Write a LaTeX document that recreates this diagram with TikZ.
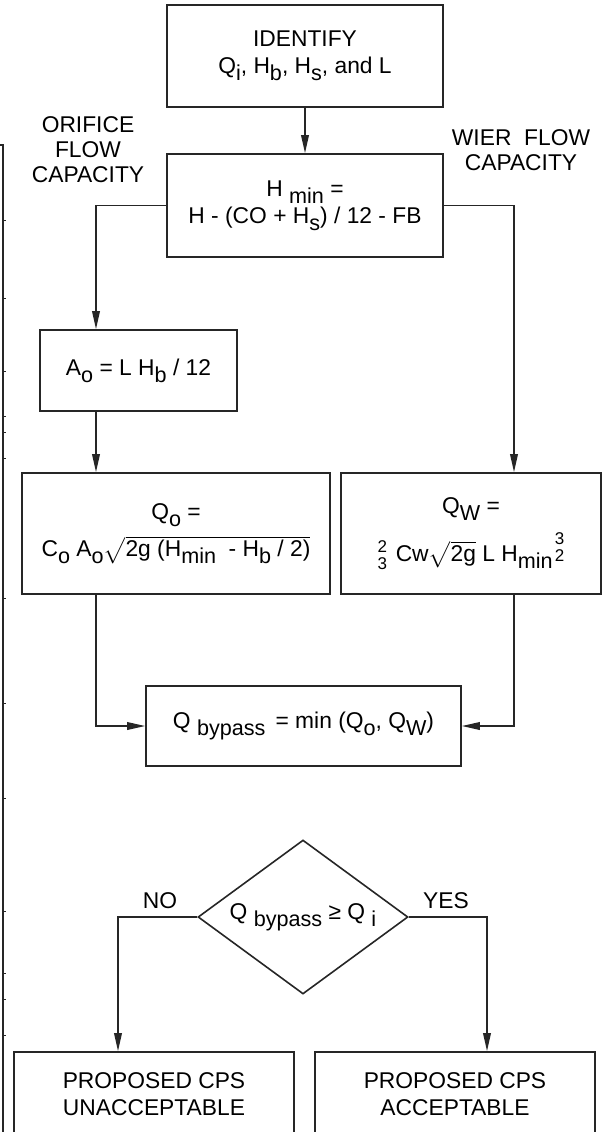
\documentclass[tikz,border=0pt]{standalone}
\usepackage{amsmath}
\usepackage{fontspec}
\setmainfont{Liberation Sans}
\usetikzlibrary{arrows.meta,shapes.geometric}
\newcommand\sbx[1]{\raisebox{-0.3em}{\fontsize{10.8}{11}\selectfont #1}}
\newcommand\stk[2]{$\genfrac{}{}{0pt}{}{\mbox{\fontsize{8.5}{8.5}\selectfont #1}}{\mbox{\fontsize{8.5}{8.5}\selectfont #2}}$}
\begin{document}
\begin{tikzpicture}[x=0.5pt,y=-0.5pt,
  font=\fontsize{11.4}{13.5}\selectfont,
  line width=0.8pt,
  box/.style={draw=black!85, rectangle, inner sep=0pt, align=center},
  lbl/.style={align=center, inner sep=0pt, font=\fontsize{11.4}{12.5}\selectfont},
  arr/.style={draw=black!85, -{Triangle[length=9pt,width=3.8pt]}},
  ln/.style={draw=black!85}]
\useasboundingbox (0,0) rectangle (605,1132);
\clip (0,0) rectangle (605,1132);
% left frame remnant
\draw[ln, line width=0.7pt] (0,145) -- (3,145) -- (3,1140);
\foreach \t in {220,298,371,416,432,458,598,703,798,911,973,999,1035}
  \draw[ln, line width=0.5pt] (3,\t) -- (6,\t);
% nodes
\node[box, minimum width=138pt, minimum height=51pt] (id) at (305,56)
  {IDENTIFY\\Q\sbx{i}, H\sbx{b}, H\sbx{s}, and L};
\node[box, minimum width=138pt, minimum height=51.5pt] (hmin) at (305,205.5)
  {H \sbx{min} =\\H - (CO + H\sbx{s}) / 12 - FB};
\node[lbl] (orif) at (88,150) {ORIFICE\\FLOW\\CAPACITY};
\node[lbl] (wier) at (521,150) {WIER\ \ FLOW\\CAPACITY};
\node[box, minimum width=98.5pt, minimum height=40.5pt] (ao) at (138.5,370.5)
  {A\sbx{o} = L H\sbx{b} / 12};
\node[box, minimum width=154pt, minimum height=60.5pt] (qo) at (176,533.5)
  {Q\sbx{o} =\\[5pt] C\sbx{o} A\sbx{o}$\sqrt{\mbox{2g (H\sbx{min} \ - H\sbx{b} / 2)}}$};
\node[box, minimum width=130pt, minimum height=60.5pt] (qw) at (471,533.5)
  {Q\sbx{W} =\\[5pt] \stk{2}{3} Cw$\sqrt{\mbox{2g}}$ L H\sbx{min}\raisebox{0.35em}{\stk{3}{2}}};
\node[box, minimum width=157.5pt, minimum height=40pt] (qb) at (303.5,726)
  {Q \sbx{bypass} \,= min (Q\sbx{o}, Q\sbx{W})};
\node[draw=black!85, diamond, shape aspect=1.36, inner sep=0pt,
      minimum width=105pt, minimum height=77pt] (dia) at (303,917)
  {Q \sbx{bypass} ≥ Q \sbx{i}};
\node[lbl] (no) at (160,901) {NO};
\node[lbl] (yes) at (446,901) {YES};
\node[box, minimum width=140pt, minimum height=42pt] (nob) at (154,1094)
  {PROPOSED CPS\\UNACCEPTABLE};
\node[box, minimum width=140pt, minimum height=42pt] (yesb) at (455,1094)
  {PROPOSED CPS\\ACCEPTABLE};
% helper coordinates for off-centre connector columns
\coordinate (lx) at (96,0);
\coordinate (rx) at (514,0);
\coordinate (nx) at (118,0);
\coordinate (yx) at (487,0);
% connectors
\draw[arr] (id.south) -- (hmin.north);
\draw[arr] (hmin.west) -| (ao.north -| lx);
\draw[arr] (ao.south -| lx) -- (qo.north -| lx);
\draw[arr] (hmin.east) -| (qw.north -| rx);
\draw[arr] (qo.south -| lx) |- (qb.west);
\draw[arr] (qw.south -| rx) |- (qb.east);
\draw[arr] (dia.west) -| (nob.north -| nx);
\draw[arr] (dia.east) -| (yesb.north -| yx);
\end{tikzpicture}
\end{document}
